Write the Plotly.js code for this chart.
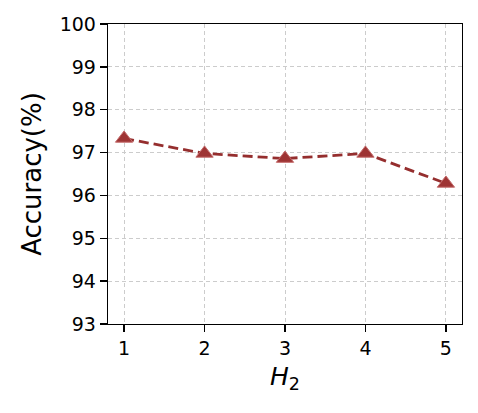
<!DOCTYPE html>
<html>
<head>
<meta charset="utf-8">
<script src="https://cdn.plot.ly/plotly-3.0.1.min.js"></script>
<style>
  html, body { margin: 0; padding: 0; background: #fff; }
  #chart { width: 478px; height: 413px; }
</style>
</head>
<body>
<div id="chart"></div>
<script>
// colours
const lineColor = "#952e2e";
const markerFill = "#9e3434";
const gridColor = "#cccccc";
const textColor = "#000";

// data
const h2_values = [1, 2, 3, 4, 5];
const accuracy = [97.33, 96.98, 96.86, 96.98, 96.28];
const y_ticks = [93, 94, 95, 96, 97, 98, 99, 100];

var trace = {
    x: h2_values,
    y: accuracy,
    type: "scatter",
    mode: "lines+markers",
    line: { color: lineColor, width: 2.8, dash: "10px,5px" },
    marker: {
        symbol: "triangle-up",
        size: 15,
        color: markerFill,
        line: { color: "#c46a6a", width: 1 }
    },
    showlegend: false
};

var layout = {
    width: 478,
    height: 413,
    margin: { l: 108, r: 16, t: 24, b: 89, pad: 0 },
    paper_bgcolor: "#fff",
    plot_bgcolor: "#fff",
    font: { family: "DejaVu Sans, sans-serif", color: textColor },
    xaxis: {
        range: [0.8, 5.2],
        tickvals: h2_values,
        ticks: "outside",
        ticklen: 7,
        tickwidth: 1.3,
        tickcolor: "#000",
        tickfont: { size: 19 },
        showline: true,
        linecolor: "#000",
        linewidth: 1.3,
        mirror: true,
        showgrid: true,
        gridcolor: gridColor,
        griddash: "4px,3px",
        gridwidth: 1,
        zeroline: false,
        title: { text: "<i>H</i><sub>2</sub>", font: { size: 25 }, standoff: 9 }
    },
    yaxis: {
        range: [93, 100],
        tickvals: y_ticks,
        ticks: "outside",
        ticklen: 7,
        tickwidth: 1.3,
        tickcolor: "#000",
        tickfont: { size: 19 },
        showline: true,
        linecolor: "#000",
        linewidth: 1.3,
        mirror: true,
        showgrid: true,
        gridcolor: gridColor,
        griddash: "4px,3px",
        gridwidth: 1,
        zeroline: false,
        title: { text: "Accuracy(%)", font: { size: 26 }, standoff: 10 }
    }
};

Plotly.newPlot("chart", [trace], layout, { displayModeBar: false, staticPlot: true });
</script>
</body>
</html>
